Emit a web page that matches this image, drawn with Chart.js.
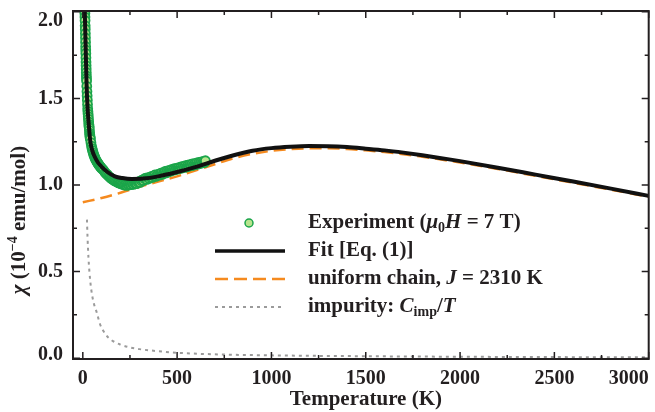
<!DOCTYPE html>
<html>
<head>
<meta charset="utf-8">
<script src="https://cdn.jsdelivr.net/npm/chart.js@4"></script>
<style>
  html, body { margin: 0; padding: 0; background: #fff; }
</style>
</head>
<body>
<canvas id="chi" width="655" height="412"></canvas>
<script>
// susceptibility vs temperature, measured points + fit components
var EXP_T = [10, 10.5, 11, 11.5, 12, 12.5, 13, 13.5, 14, 14.5, 15, 15.5, 16, 16.5, 17, 17.5, 18, 18.5, 19, 19.5, 20,
  21, 22, 23, 24, 25, 26, 27, 28, 29, 30, 31, 32, 33, 34, 35, 36, 37, 38, 39, 40,
  43, 46, 49, 52, 55, 58, 61, 64, 67, 70, 73, 76, 79, 82, 85, 88, 91, 94, 97,
  100, 106, 112, 118, 124, 130, 136, 142, 148, 154, 160, 166, 172, 178, 184, 190, 196, 202, 208, 214,
  220, 226, 232, 238, 244, 250, 256, 262, 268, 274, 280, 286, 292, 298, 304, 310, 316, 322, 328, 334,
  340, 346, 352, 358, 364, 370, 376, 382, 388, 394, 400, 406, 412, 418, 424, 430, 436, 442, 448, 454,
  460, 466, 472, 478, 484, 490, 496, 502, 508, 514, 520, 526, 532, 538, 544, 550, 556, 562, 568, 574,
  580, 586, 592, 598, 604, 610, 616, 622, 628, 634, 640, 646, 650];
var EXP_CHI = [2.04, 2.01, 1.99, 1.97, 1.95, 1.92, 1.90, 1.875, 1.85, 1.825, 1.80, 1.78, 1.76, 1.735, 1.71, 1.69, 1.67, 1.65, 1.63, 1.615, 1.60,
  1.57, 1.54, 1.515, 1.49, 1.465, 1.44, 1.425, 1.41, 1.395, 1.38, 1.365, 1.35, 1.34, 1.33, 1.315, 1.30, 1.29, 1.28, 1.272, 1.265,
  1.245, 1.225, 1.21, 1.198, 1.186, 1.175, 1.166, 1.158, 1.15, 1.143, 1.137, 1.132, 1.127, 1.122, 1.117, 1.112, 1.108, 1.104, 1.10,
  1.095, 1.09, 1.082, 1.072, 1.066, 1.06, 1.052, 1.046, 1.04, 1.036, 1.03, 1.026, 1.022, 1.02, 1.016, 1.012, 1.01, 1.008, 1.005, 1.004,
  1.0, 1.002, 0.998, 1.003, 1.0, 1.005, 1.002, 1.008, 1.004, 1.01, 1.012, 1.008, 1.016, 1.02, 1.015, 1.025, 1.03, 1.026, 1.036, 1.04,
  1.032, 1.042, 1.038, 1.045, 1.05, 1.044, 1.052, 1.058, 1.05, 1.056, 1.062, 1.057, 1.066, 1.07, 1.062, 1.072, 1.078, 1.07, 1.082, 1.076,
  1.085, 1.08, 1.09, 1.085, 1.094, 1.088, 1.096, 1.092, 1.1, 1.095, 1.104, 1.098, 1.108, 1.102, 1.112, 1.104, 1.114, 1.108, 1.118, 1.112,
  1.122, 1.114, 1.124, 1.118, 1.128, 1.12, 1.13, 1.124, 1.134, 1.128, 1.136, 1.13, 1.14];

var FIT_T = [10, 15, 20, 25, 30, 40, 50, 60, 80, 100, 130, 170, 210, 260, 320, 400, 500, 600, 700, 800,
  900, 1000, 1100, 1200, 1300, 1400, 1500, 1600, 1700, 1800, 1900, 2000, 2200, 2400, 2600, 2800, 3000];
var FIT_CHI = [2.02, 1.80, 1.58, 1.45, 1.37, 1.25, 1.20, 1.17, 1.13, 1.105, 1.075, 1.05, 1.04, 1.035, 1.037, 1.05, 1.075, 1.105, 1.14, 1.172,
  1.198, 1.213, 1.221, 1.225, 1.224, 1.219, 1.21, 1.2, 1.187, 1.172, 1.155, 1.138, 1.1, 1.06, 1.02, 0.979, 0.937];

var CHAIN_T = [0, 100, 200, 300, 400, 500, 600, 700, 800, 900, 1000, 1100, 1200, 1300, 1400, 1500, 1600, 1700, 1800, 1900,
  2000, 2200, 2400, 2600, 2800, 3000];
var CHAIN_CHI = [0.9, 0.925, 0.955, 0.99, 1.02, 1.05, 1.085, 1.12, 1.155, 1.18, 1.197, 1.207, 1.212, 1.212, 1.208, 1.2, 1.19, 1.178, 1.163, 1.147,
  1.13, 1.093, 1.053, 1.013, 0.973, 0.932];

var IMP_T = [22, 25, 30, 40, 50, 60, 75, 90, 110, 130, 160, 200, 250, 300, 400, 500, 700, 1000, 1500, 2000, 2500, 3000];
var IMP_CHI = [0.80, 0.70, 0.58, 0.44, 0.36, 0.31, 0.26, 0.20, 0.155, 0.125, 0.098, 0.078, 0.062, 0.052, 0.040, 0.031, 0.022, 0.016, 0.011, 0.008, 0.006, 0.005];

var X_TICKS = [0, 500, 1000, 1500, 2000, 2500, 3000];
var Y_TICKS = [0.0, 0.5, 1.0, 1.5, 2.0];

var GREEN_EDGE = '#1ba54a';
var GREEN_FILL = '#b8e48e';
var ORANGE = '#f58a1f';
var GREY = '#9b9b9b';
var INK = '#231f20';
var SERIF = "'Liberation Serif', 'Times New Roman', serif";

function pairs(xs, ys) {
  return xs.map(function (x, i) { return { x: x, y: ys[i] }; });
}

// draws a run of styled pieces: {t, i: italic, sub, sup}
function fontFor(p, size) {
  var s = (p.sub || p.sup) ? Math.round(size * 0.66) : size;
  return (p.i ? 'italic ' : '') + 'bold ' + s + 'px ' + SERIF;
}
function richWidth(ctx, parts, size) {
  var w = 0;
  parts.forEach(function (p) {
    ctx.font = fontFor(p, size);
    w += ctx.measureText(p.t).width;
  });
  return w;
}
function drawRich(ctx, parts, x, y, size) {
  ctx.textBaseline = 'middle';
  ctx.textAlign = 'left';
  parts.forEach(function (p) {
    ctx.font = fontFor(p, size);
    var dy = p.sub ? size * 0.28 : (p.sup ? -size * 0.32 : 0);
    ctx.fillText(p.t, x, y + dy);
    x += ctx.measureText(p.t).width;
  });
}

var frame = {
  id: 'frame',
  afterDraw: function (chart) {
    var ctx = chart.ctx;
    var a = chart.chartArea;
    var xs = chart.scales.x, ys = chart.scales.y;
    ctx.save();
    ctx.strokeStyle = INK;
    ctx.fillStyle = INK;

    // inward ticks on all four sides
    ctx.lineWidth = 1.5;
    ctx.beginPath();
    for (var t = 0; t <= 3000; t += 250) {
      var px = xs.getPixelForValue(t);
      var len = (t % 500 === 0) ? 7 : 4;
      ctx.moveTo(px, a.bottom); ctx.lineTo(px, a.bottom - len);
      ctx.moveTo(px, a.top); ctx.lineTo(px, a.top + len);
    }
    for (var v = 0; v <= 2.0001; v += 0.25) {
      var py = ys.getPixelForValue(v);
      var l2 = (Math.abs(v * 2 - Math.round(v * 2)) < 1e-6) ? 7 : 4;
      ctx.moveTo(a.left, py); ctx.lineTo(a.left + l2, py);
      ctx.moveTo(a.right, py); ctx.lineTo(a.right - l2, py);
    }
    ctx.stroke();

    ctx.lineWidth = 2;
    ctx.strokeRect(a.left, a.top, a.right - a.left, a.bottom - a.top);

    // tick labels
    ctx.font = 'bold 20px ' + SERIF;
    ctx.textBaseline = 'middle';
    X_TICKS.forEach(function (t, i) {
      var px = xs.getPixelForValue(t);
      ctx.textAlign = (i === X_TICKS.length - 1) ? 'right' : 'center';
      ctx.fillText(String(t), px, a.bottom + 20);
    });
    ctx.textAlign = 'right';
    Y_TICKS.forEach(function (v) {
      var py = Math.min(Math.max(ys.getPixelForValue(v), a.top + 10), a.bottom - 4);
      ctx.fillText(v.toFixed(1), a.left - 10, py);
    });

    // axis titles
    ctx.font = 'bold 21px ' + SERIF;
    ctx.textAlign = 'center';
    ctx.fillText('Temperature (K)', (a.left + a.right) / 2 + 5, 400);

    var yTitle = [{ t: 'χ', i: true }, { t: ' (10' }, { t: '−4', sup: true }, { t: ' emu/mol)' }];
    ctx.save();
    ctx.translate(20, 220);
    ctx.rotate(-Math.PI / 2);
    var w = richWidth(ctx, yTitle, 21);
    drawRich(ctx, yTitle, -w / 2, 0, 21);
    ctx.restore();

    // legend
    var lx0 = 215, lx1 = 285, tx = 308;
    var rows = [223, 251, 279, 307];

    ctx.beginPath();
    ctx.arc((lx0 + lx1) / 2 - 1, rows[0], 4, 0, Math.PI * 2);
    ctx.fillStyle = GREEN_FILL; ctx.fill();
    ctx.lineWidth = 1.5; ctx.strokeStyle = GREEN_EDGE; ctx.stroke();

    ctx.lineWidth = 3.5; ctx.strokeStyle = '#111';
    ctx.beginPath(); ctx.moveTo(lx0, rows[1]); ctx.lineTo(lx1, rows[1]); ctx.stroke();

    ctx.lineWidth = 2.5; ctx.strokeStyle = ORANGE; ctx.setLineDash([13, 6]);
    ctx.beginPath(); ctx.moveTo(lx0, rows[2]); ctx.lineTo(lx1, rows[2]); ctx.stroke();

    ctx.lineWidth = 2; ctx.strokeStyle = GREY; ctx.setLineDash([3, 4]);
    ctx.beginPath(); ctx.moveTo(lx0, rows[3]); ctx.lineTo(lx1, rows[3]); ctx.stroke();
    ctx.setLineDash([]);

    ctx.fillStyle = INK;
    var labels = [
      [{ t: 'Experiment (' }, { t: 'μ', i: true }, { t: '0', sub: true }, { t: 'H', i: true }, { t: ' = 7 T)' }],
      [{ t: 'Fit [Eq. (1)]' }],
      [{ t: 'uniform chain, ' }, { t: 'J', i: true }, { t: ' = 2310 K' }],
      [{ t: 'impurity: ' }, { t: 'C', i: true }, { t: 'imp', sub: true }, { t: '/' }, { t: 'T', i: true }]
    ];
    labels.forEach(function (parts, i) { drawRich(ctx, parts, tx, rows[i], 21); });

    ctx.restore();
  }
};

new Chart(document.getElementById('chi').getContext('2d'), {
  type: 'scatter',
  data: {
    datasets: [{
      label: 'Fit [Eq. (1)]',
      data: pairs(FIT_T, FIT_CHI),
      showLine: true,
      borderColor: '#111',
      borderWidth: 4,
      pointRadius: 0,
      cubicInterpolationMode: 'monotone',
      clip: 0,
      order: 0
    }, {
      label: 'Experiment',
      data: pairs(EXP_T, EXP_CHI),
      pointRadius: 4.5,
      pointBorderWidth: 1.8,
      pointBorderColor: GREEN_EDGE,
      pointBackgroundColor: GREEN_FILL,
      clip: 0,
      order: 1
    }, {
      label: 'uniform chain',
      data: pairs(CHAIN_T, CHAIN_CHI),
      showLine: true,
      borderColor: ORANGE,
      borderWidth: 2.5,
      borderDash: [12, 6],
      pointRadius: 0,
      cubicInterpolationMode: 'monotone',
      clip: 0,
      order: 2
    }, {
      label: 'impurity',
      data: pairs(IMP_T, IMP_CHI),
      showLine: true,
      borderColor: GREY,
      borderWidth: 2,
      borderDash: [3, 4],
      pointRadius: 0,
      cubicInterpolationMode: 'monotone',
      clip: 0,
      order: 3
    }]
  },
  options: {
    responsive: false,
    animation: false,
    layout: { padding: { left: 73, right: 3, top: 11, bottom: 53 } },
    plugins: { legend: { display: false }, tooltip: { enabled: false } },
    scales: {
      x: { type: 'linear', min: -52, max: 3000, display: false },
      y: { type: 'linear', min: -0.005, max: 2.005, display: false }
    }
  },
  plugins: [frame]
});
</script>
</body>
</html>
